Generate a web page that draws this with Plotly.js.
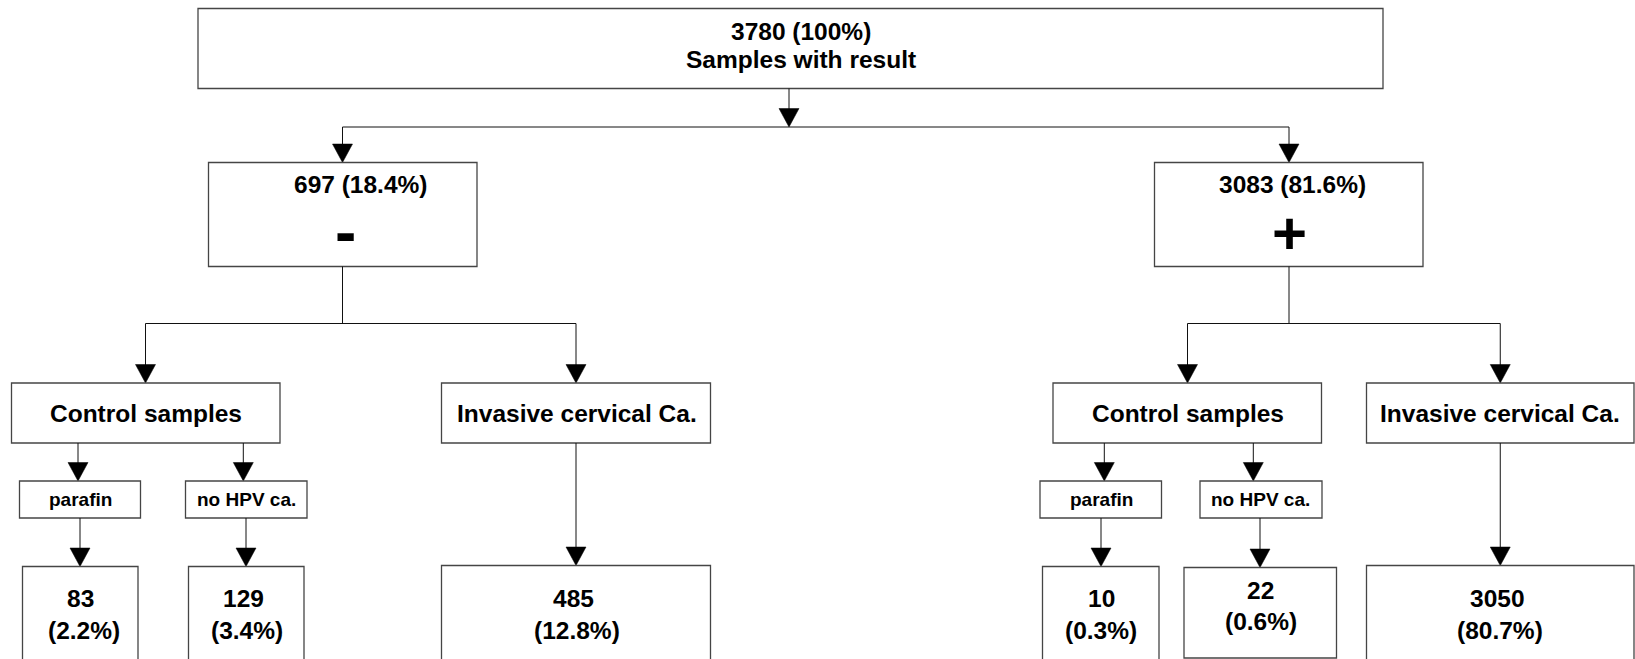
<!DOCTYPE html>
<html><head><meta charset="utf-8">
<script src="https://cdn.plot.ly/plotly-3.0.1.min.js"></script>
<style>html,body{margin:0;padding:0;background:#fff;overflow:hidden}#chart{width:1635px;height:659px}</style>
</head><body><div id="chart"></div>
<script>
// ---------------- DATA ----------------
const totalCount = 3780;
const totalPercent = 100;
const totalLabel = 'Samples with result';
const resultSigns = ['-', '+'];
const resultCounts = [697, 3083];
const resultPercents = [18.4, 81.6];
const sampleTypes = ['Control samples', 'Invasive cervical Ca.'];
const controlTypes = ['parafin', 'no HPV ca.'];
// leaves: [- parafin, - no HPV ca., - invasive, + parafin, + no HPV ca., + invasive]
const leafCounts = [83, 129, 485, 10, 22, 3050];
const leafPercents = [2.2, 3.4, 12.8, 0.3, 0.6, 80.7];

// ---------------- LAYOUT GEOMETRY (pixel space) ----------------
const GEO = {
  top: {box: [198, 1383, 8.5, 88.5], cx: 789, l1: {x: 801, y: 31}, l2: {x: 801, y: 59}, split: 127},
  groups: [
    {box: [208.5, 477, 162.5, 266.5], cx: 342.5, head: {x: 360, y: 184}, sign: {x: 345, y: 232, size: 64}, split: 323.5},
    {box: [1154.5, 1423, 162.5, 266.5], cx: 1289, head: {x: 1292, y: 184}, sign: {x: 1289, y: 233, size: 60}, split: 323.5}
  ],
  types: [
    [{box: [11.5, 280, 383, 443], cx: 145.5, tx: 145.8}, {box: [441.5, 710.5, 383, 443], cx: 576, tx: 576.6}],
    [{box: [1053, 1321.5, 383, 443], cx: 1187.5, tx: 1187.5}, {box: [1366.5, 1634, 383, 443], cx: 1500.25, tx: 1500}]
  ],
  subs: [
    [{box: [19.5, 140.5, 481, 518], inX: 78, outX: 80, tx: 80.3}, {box: [185.5, 307, 481, 518], inX: 243.3, outX: 246, tx: 246.3}],
    [{box: [1040, 1161.5, 481, 518], inX: 1104.3, outX: 1101, tx: 1101.3}, {box: [1200, 1322, 481, 518], inX: 1253.3, outX: 1260, tx: 1260.8}]
  ],
  leaves: [
    {box: [22.5, 138, 566.5, 700], l1: {x: 80.3, y: 598}, l2: {x: 84.2, y: 630}},
    {box: [188.5, 304, 566.5, 700], l1: {x: 243, y: 598}, l2: {x: 247, y: 630}},
    {box: [441.5, 710.5, 565.5, 700], l1: {x: 573.3, y: 598}, l2: {x: 576.7, y: 630}},
    {box: [1042.5, 1159, 566.5, 700], l1: {x: 1101.3, y: 598}, l2: {x: 1101.2, y: 630}},
    {box: [1184, 1336.5, 567.5, 658], l1: {x: 1260.3, y: 590}, l2: {x: 1260.8, y: 621.7}},
    {box: [1366.5, 1634, 565.5, 700], l1: {x: 1497, y: 598}, l2: {x: 1500, y: 630}}
  ]
};
const HEAD_W = 10, HEAD_H = 18.5;
const BOX_LINE = {color: '#454545', width: 1.3};
const CONN_LINE = {color: '#111111', width: 1};
const FONT = {family: 'Liberation Sans, Arial, sans-serif', color: '#000', weight: 'bold'};

// ---------------- BUILD ----------------
const shapes = [];
const annotations = [];
function box(b) {
  shapes.push({type: 'rect', xref: 'x', yref: 'y', x0: b[0], x1: b[1], y0: b[2], y1: b[3],
    line: BOX_LINE, fillcolor: 'rgba(0,0,0,0)', layer: 'above'});
}
function seg(x0, y0, x1, y1) {
  shapes.push({type: 'line', xref: 'x', yref: 'y', x0, y0, x1, y1, line: CONN_LINE});
}
function arrow(x, y0, y1) {
  seg(x, y0, x, y1 - HEAD_H + 1);
  shapes.push({type: 'path', xref: 'x', yref: 'y',
    path: `M ${x - HEAD_W} ${y1 - HEAD_H} L ${x + HEAD_W} ${y1 - HEAD_H} L ${x} ${y1} Z`,
    fillcolor: '#000', line: {color: '#000', width: 0.5}});
}
function text(t, x, y, size) {
  annotations.push({text: t, x, y, xref: 'x', yref: 'y', showarrow: false,
    xanchor: 'center', yanchor: 'middle', font: Object.assign({}, FONT, {size})});
}
const pct = v => `${v}%`;

// top
box(GEO.top.box);
text(`${totalCount} (${pct(totalPercent)})`, GEO.top.l1.x, GEO.top.l1.y, 24.5);
text(totalLabel, GEO.top.l2.x, GEO.top.l2.y, 24.5);
arrow(GEO.top.cx, GEO.top.box[3], GEO.top.split);
seg(GEO.groups[0].cx, GEO.top.split, GEO.groups[1].cx, GEO.top.split);

GEO.groups.forEach((g, gi) => {
  arrow(g.cx, GEO.top.split, g.box[2]);
  box(g.box);
  text(`${resultCounts[gi]} (${pct(resultPercents[gi])})`, g.head.x, g.head.y, 24.5);
  text(resultSigns[gi], g.sign.x, g.sign.y, g.sign.size);
  const types = GEO.types[gi];
  seg(g.cx, g.box[3], g.cx, g.split);
  seg(types[0].cx, g.split, types[1].cx, g.split);
  types.forEach((t, ti) => {
    arrow(t.cx, g.split, t.box[2]);
    box(t.box);
    text(sampleTypes[ti], t.tx, (t.box[2] + t.box[3]) / 2, 24.5);
  });
  // control sub-types
  GEO.subs[gi].forEach((s, si) => {
    arrow(s.inX, types[0].box[3], s.box[2]);
    box(s.box);
    text(controlTypes[si], s.tx, (s.box[2] + s.box[3]) / 2, 19);
    const li = gi * 3 + si;
    const leaf = GEO.leaves[li];
    arrow(s.outX, s.box[3], leaf.box[2]);
  });
  // invasive leaf
  const invLeaf = GEO.leaves[gi * 3 + 2];
  arrow(types[1].cx, types[1].box[3], invLeaf.box[2]);
});

GEO.leaves.forEach((leaf, li) => {
  box(leaf.box);
  text(String(leafCounts[li]), leaf.l1.x, leaf.l1.y, 24.5);
  text(`(${pct(leafPercents[li])})`, leaf.l2.x, leaf.l2.y, 24.5);
});

const layout = {
  width: 1635, height: 659,
  margin: {l: 0, r: 0, t: 0, b: 0, pad: 0},
  paper_bgcolor: '#fff', plot_bgcolor: '#fff',
  showlegend: false,
  xaxis: {range: [0, 1635], visible: false, fixedrange: true},
  yaxis: {range: [659, 0], visible: false, fixedrange: true},
  shapes, annotations
};
Plotly.newPlot('chart', [{x: [], y: [], type: 'scatter', mode: 'markers', hoverinfo: 'skip'}], layout,
  {staticPlot: true, displayModeBar: false});
</script>
</body></html>
